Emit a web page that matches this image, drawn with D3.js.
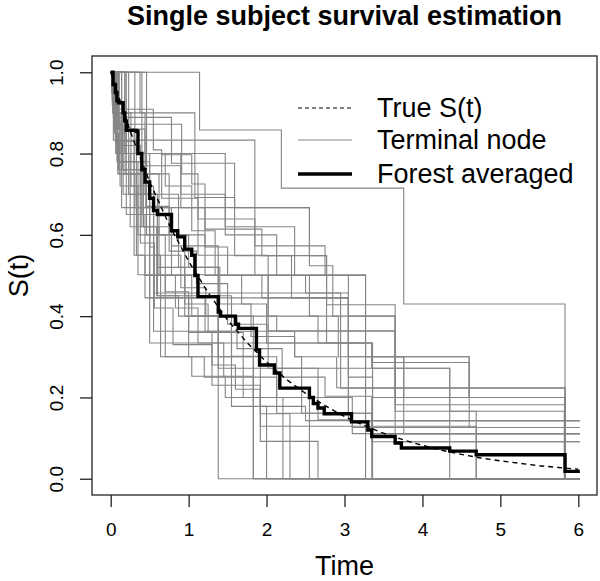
<!DOCTYPE html>
<html><head><meta charset="utf-8">
<script src="https://cdn.jsdelivr.net/npm/d3@7"></script>
<style>body{margin:0;background:#fff}svg{display:block}text{font-family:"Liberation Sans",Arial,Helvetica,sans-serif;fill:#000}</style>
</head><body><svg id="c" width="600" height="581"></svg>
<script>
const xTicks = [0,1,2,3,4,5,6];
const yTicks = [0.0,0.2,0.4,0.6,0.8,1.0];
const yTickLabels = ["0.0","0.2","0.4","0.6","0.8","1.0"];
const tMax = 6.02;
const legendLabels = ["True S(t)","Terminal node","Forest averaged"];

// True S(t)
const trueT = [0,0.25,0.5,0.75,1.0,1.25,1.5,1.75,2.0,2.25,2.5,2.75,3.0,3.25,3.5,3.75,4.0,4.25,4.5,4.75,5.0,5.25,5.5,5.75,6.0];
const trueS = [1.0,0.855,0.73,0.625,0.535,0.458,0.39,0.335,0.287,0.245,0.21,0.18,0.153,0.131,0.112,0.096,0.082,0.07,0.06,0.051,0.044,0.038,0.032,0.0275,0.0235];

// Forest averaged step function: [time, value after step]
const forest = [[0,1],[0.03,0.97],[0.06,0.95],[0.08,0.93],[0.10,0.925],[0.16,0.90],[0.18,0.88],[0.20,0.857],[0.33,0.855],[0.35,0.80],[0.40,0.76],[0.44,0.73],[0.50,0.69],[0.55,0.66],[0.60,0.65],[0.78,0.61],[0.86,0.595],[0.95,0.565],[1.04,0.55],[1.08,0.50],[1.12,0.448],[1.38,0.41],[1.41,0.40],[1.60,0.38],[1.64,0.37],[1.87,0.317],[1.91,0.28],[2.10,0.26],[2.17,0.223],[2.55,0.20],[2.60,0.185],[2.66,0.174],[2.74,0.16],[3.09,0.14],[3.30,0.12],[3.35,0.104],[3.65,0.088],[3.73,0.0755],[4.35,0.068],[4.69,0.059],[5.83,0.018]];

// Terminal node survival step functions
const nodes = [
 [[0,1],[1.14,.858],[2.19,.715],[3.76,.43],[5.83,0]],
 [[0,1],[.034,.833],[1.85,.573],[2.75,.5],[3.27,.3],[4.6,.2],[5.83,0]],
 [[0,1],[.056,.9],[1.08,.692],[1.59,.549],[2.32,.445],[3.05,.143]],
 [[0,1],[.034,.889],[.78,.776],[1.59,.667],[2.55,.549],[2.77,.428],[3.65,.182],[5.83,0]],
 [[0,1],[.056,.872],[.91,.75],[1.12,.639],[1.85,.5],[2.5,.457],[2.95,.223],[5.83,0]],
 [[0,1],[.10,.909],[.547,.809],[.654,.797],[1.04,.725],[1.21,.614],[1.94,.549],[2.77,.334],[3.35,.272],[4.35,0]],
 [[0,1],[.14,.667],[.78,.573],[1.38,.40],[2.13,.363],[3.65,.166],[5.82,0]],
 [[0,1],[.184,.75],[.31,.667],[2.55,.524],[2.85,.4],[3.65,.2],[5.83,0]],
 [[0,1],[.23,.86],[.44,.70],[.87,.52],[1.38,.272],[4.35,.166],[4.69,0]],
 [[0,1],[.31,.8],[.654,.69],[1.12,.55],[2.02,.364],[3.65,.3],[4.6,.126]],
 [[0,1],[.376,.9],[.44,.80],[1.47,.62],[2.36,.50],[3.05,.30],[3.76,.286],[4.6,.2],[5.83,0]],
 [[0,1],[.02,.93],[.05,.86],[.08,.78],[.35,.60],[.50,.445],[1.21,.363],[1.55,.25],[2.13,.161],[3.35,.091]],
 [[0,1],[.03,.92],[.06,.84],[.09,.75],[.33,.55],[.44,.50],[.70,.30],[1.04,.252],[1.47,.20],[2.66,.145],[3.1,.111]],
 [[0,1],[.02,.96],[.04,.90],[.07,.80],[.40,.65],[.60,.45],[.87,.40],[1.83,.20],[2.21,0]],
 [[0,1],[.06,.93],[.08,.85],[.10,.78],[.46,.60],[1.21,.50],[1.68,.43],[2.0,.334],[3.36,.2],[5.83,0]],
 [[0,1],[.14,.90],[.23,.80],[.5,.57],[.55,.50],[.95,.40],[1.38,0]],
 [[0,1],[.18,.80],[.40,.62],[.59,.45],[1.0,.30],[1.83,0]],
 [[0,1],[.40,.80],[.70,.72],[1.04,.61],[1.34,.50],[1.94,.445],[3.05,.25],[3.36,0]],
 [[0,1],[.46,.77],[.9,.667],[1.21,.57],[1.5,.50],[2.02,.40],[2.66,.334],[3.27,0]],
 [[0,1],[.05,.88],[.12,.72],[.35,.502],[3.27,.126]],
 [[0,1],[.04,.87],[.16,.70],[.55,.457],[3.05,.40],[3.65,.091]],
 [[0,1],[.07,.85],[.2,.65],[.44,.445],[3.05,.143]],
 [[0,1],[.03,.90],[.26,.72],[.55,.363],[2.36,.30],[2.45,.161],[3.35,0]],
 [[0,1],[.09,.80],[.25,.62],[.50,.334],[3.35,.286],[3.76,.111]],
 [[0,1],[.11,.75],[.30,.55],[.64,.30],[1.2,.25],[1.55,.178],[2.5,.143]],
 [[0,1],[.08,.90],[.15,.82],[.38,.70],[.6,.62],[.78,.50],[1.04,.40],[1.38,.30],[1.7,.20],[1.92,.092],[2.66,0]],
 [[0,1],[.013,.95],[.026,.90],[.045,.85],[.065,.80],[.3,.75],[.75,.60],[.95,.45],[1.55,.301],[1.92,.129],[4.69,0]],
 [[0,1],[.2,.80],[.9,.70],[1.47,.60],[2.13,.50],[2.55,.40],[2.92,.30],[3.76,.2],[5.83,0]],
 [[0,1],[.02,.94],[.05,.88],[.08,.82],[.1,.76],[.42,.62],[.62,.50],[.83,.42],[1.12,.334],[1.45,.252],[1.83,0]],
 [[0,1],[.03,.93],[.07,.84],[.09,.78],[.5,.60],[.7,.46],[1.0,.36],[1.3,.28],[1.6,.22],[1.92,.16],[2.3,0]],
 [[0,1],[.04,.91],[.06,.83],[.33,.65],[.6,.52],[.95,.43],[1.25,.36],[1.7,.30],[2.13,.2],[2.55,0]],
 [[0,1],[.05,.9],[.12,.8],[.45,.67],[.75,.56],[1.1,.48],[1.5,.38],[2.02,.272],[2.66,.20],[3.1,.126]],
 [[0,1],[.02,.92],[.15,.76],[.38,.58],[.56,.42],[.8,.33],[1.3,.23],[1.92,.178],[2.0,0]],
 [[0,1],[.07,.82],[.23,.7],[.55,.55],[.9,.47],[1.22,.40],[1.62,.32],[2.2,.25],[2.75,.203],[3.35,.11]],
 [[0,1],[.1,.86],[.3,.75],[.62,.6],[1.0,.52],[1.4,.43],[1.8,.35],[2.36,.30],[2.9,.224],[5.83,0]]
];

const W=600,H=581;
const box={l:92,r:597,t:56,b:495};
const pad=0.04;
const x=d3.scaleLinear().domain([0,6]).range([box.l+(box.r-box.l)/1.08*pad, box.r-(box.r-box.l)/1.08*pad]);
const y=d3.scaleLinear().domain([0,1]).range([box.b-(box.b-box.t)/1.08*pad, box.t+(box.b-box.t)/1.08*pad]);
const svg=d3.select("#c");

const withEnd = pts => { const p=pts.slice(); p.push([tMax,p[p.length-1][1]]); return p; };
const stepLine=d3.line().x(d=>x(d[0])).y(d=>y(d[1])).curve(d3.curveStepAfter);

const g=svg.append("g");
nodes.forEach(n=>{
  g.append("path").attr("d",stepLine(withEnd(n))).attr("fill","none").attr("stroke","#858585").attr("stroke-width",1.1);
});
g.append("path").attr("d",d3.line().x((d,i)=>x(trueT[i])).y(d=>y(d))(trueS))
  .attr("fill","none").attr("stroke","#000").attr("stroke-width",1.4).attr("stroke-dasharray","5,4");
g.append("path").attr("d",stepLine(withEnd(forest))).attr("fill","none").attr("stroke","#000").attr("stroke-width",3.4);

// box
svg.append("rect").attr("x",box.l).attr("y",box.t).attr("width",box.r-box.l).attr("height",box.b-box.t)
  .attr("fill","none").attr("stroke","#222").attr("stroke-width",1.3);

// x axis
const xa=svg.append("g").attr("transform",`translate(0,${box.b})`).call(d3.axisBottom(x).tickValues(xTicks).tickSize(12).tickSizeOuter(0).tickPadding(16).tickFormat(d3.format("d")));
xa.select(".domain").remove();
xa.selectAll("line").attr("stroke","#222").attr("stroke-width",1.3);
xa.selectAll("text").attr("font-size",19).attr("fill","#000").style("font-family","Liberation Sans, Arial, sans-serif");

// y axis
const ya=svg.append("g").attr("transform",`translate(${box.l},0)`).call(d3.axisLeft(y).tickValues(yTicks).tickSize(12).tickSizeOuter(0).tickFormat((d,i)=>yTickLabels[i]));
ya.select(".domain").remove();
ya.selectAll("line").attr("stroke","#222").attr("stroke-width",1.3);
ya.selectAll("text").attr("font-size",19).attr("fill","#000").style("font-family","Liberation Sans, Arial, sans-serif")
  .attr("x",null).attr("dy",null).attr("text-anchor","middle")
  .attr("transform","translate(-29,0) rotate(-90)");

// titles
svg.append("text").attr("x",(box.l+box.r)/2).attr("y",25).attr("text-anchor","middle").attr("font-weight","bold").attr("font-size",27).text("Single subject survival estimation");
svg.append("text").attr("x",(box.l+box.r)/2).attr("y",575).attr("text-anchor","middle").attr("font-size",27).text("Time");
svg.append("text").attr("transform",`translate(28,${(box.t+box.b)/2}) rotate(-90)`).attr("text-anchor","middle").attr("font-size",27).text("S(t)");

// legend
const ly=[108,140,174];
const lg=svg.append("g");
lg.append("line").attr("x1",298).attr("x2",352).attr("y1",ly[0]).attr("y2",ly[0]).attr("stroke","#000").attr("stroke-width",1).attr("stroke-dasharray","4,3");
lg.append("line").attr("x1",298).attr("x2",352).attr("y1",ly[1]).attr("y2",ly[1]).attr("stroke","#858585").attr("stroke-width",1.1);
lg.append("line").attr("x1",298).attr("x2",352).attr("y1",ly[2]).attr("y2",ly[2]).attr("stroke","#000").attr("stroke-width",3.4);
legendLabels.forEach((t,i)=>{
  lg.append("text").attr("x",377).attr("y",ly[i]).attr("dy","0.35em").attr("font-size",27).text(t);
});
</script></body></html>
